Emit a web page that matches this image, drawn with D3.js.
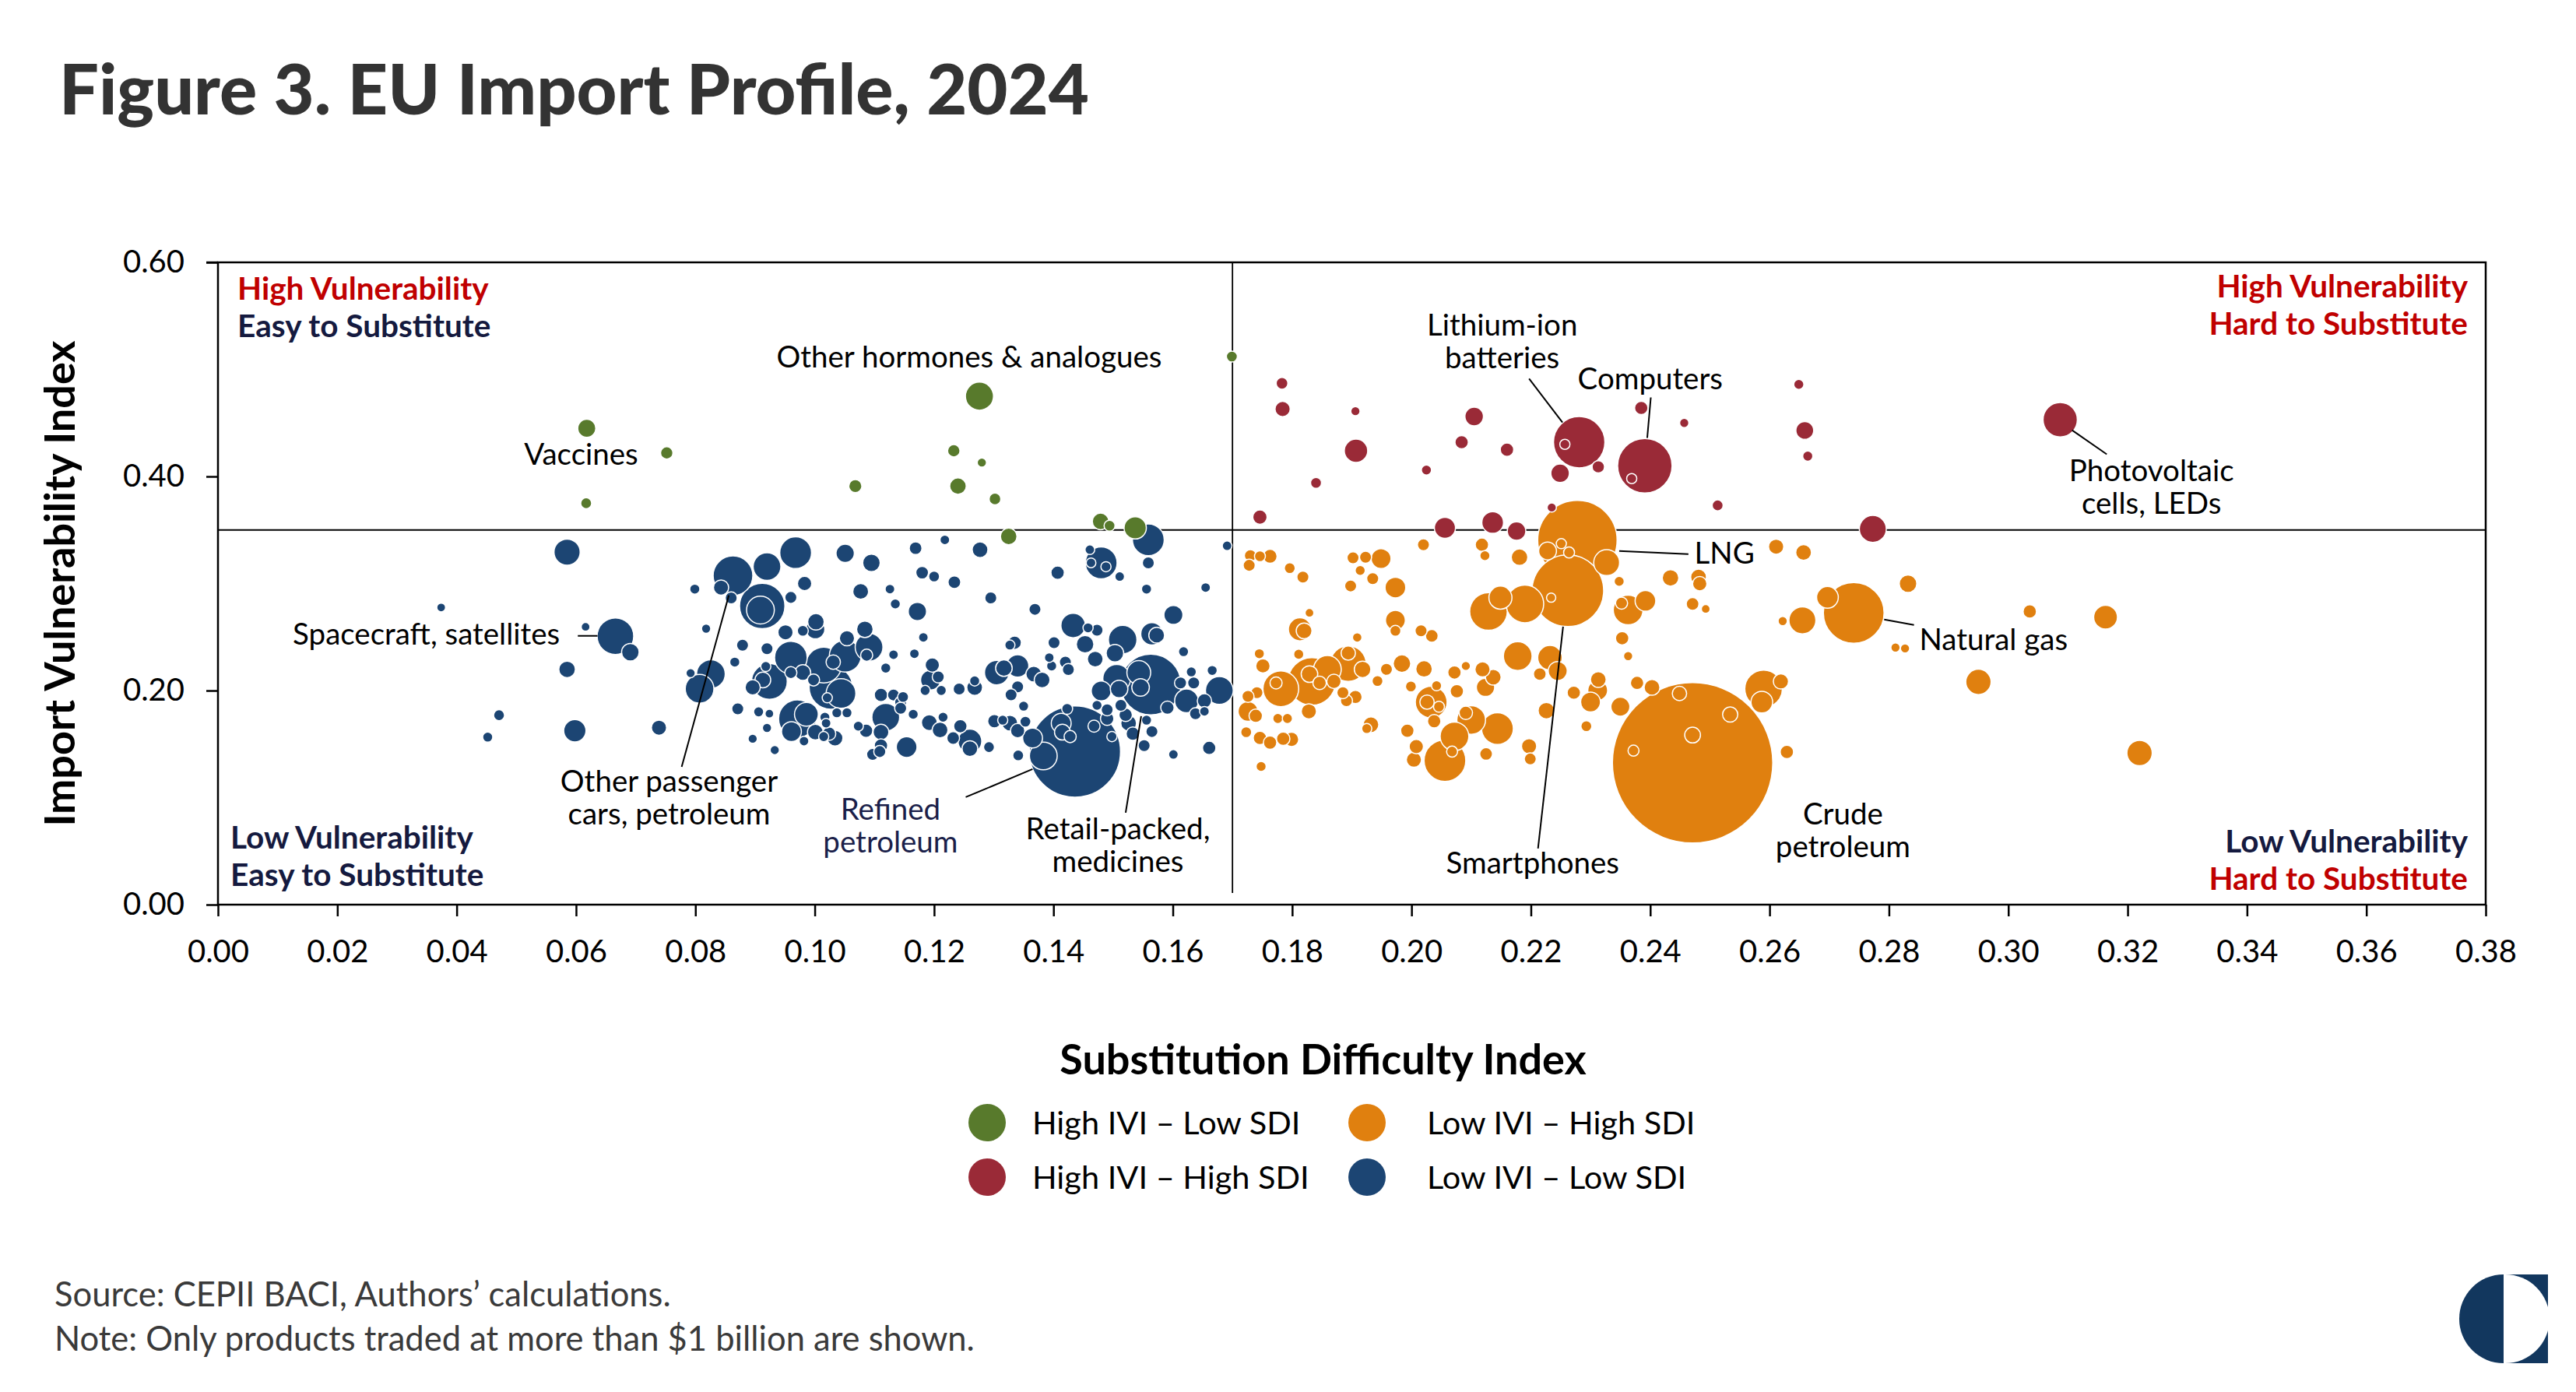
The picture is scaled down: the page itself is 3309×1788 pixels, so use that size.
<!DOCTYPE html>
<html>
<head>
<meta charset="utf-8">
<script src="https://cdn.jsdelivr.net/npm/d3@7"></script>
<style>
  body { margin: 0; background: #fff; }
  svg text { font-family: Lato, "Noto Sans", sans-serif; }
</style>
</head>
<body>
<div id="chart"></div>
<script>
// each point: [substitution difficulty index, import vulnerability index, trade value ($bn)]
const greenPoints = [
  [0.1276, 0.475, 9.2], [0.0618, 0.445, 3.8], [0.0752, 0.422, 1.8], [0.0617, 0.375, 1.4],
  [0.1068, 0.391, 2.0], [0.1233, 0.424, 1.8], [0.1280, 0.413, 1.0], [0.1240, 0.391, 3.2],
  [0.1302, 0.379, 1.6], [0.1699, 0.512, 1.4], [0.1479, 0.358, 3.2], [0.1494, 0.354, 1.4],
  [0.1537, 0.352, 5.8], [0.1325, 0.344, 3.2]
];

const redPoints = [
  [0.1783, 0.487, 1.6], [0.1784, 0.463, 2.7], [0.1906, 0.461, 1.0], [0.1907, 0.424, 6.4],
  [0.1840, 0.394, 1.4], [0.1746, 0.362, 2.4], [0.2105, 0.456, 4.0], [0.2084, 0.432, 2.1],
  [0.2160, 0.425, 2.1], [0.2025, 0.406, 1.2], [0.2249, 0.403, 4.0], [0.2313, 0.409, 1.8],
  [0.2281, 0.432, 30.8], [0.2391, 0.410, 34.6], [0.2385, 0.464, 2.1], [0.2457, 0.450, 1.0],
  [0.2649, 0.486, 1.2], [0.2659, 0.443, 3.7], [0.2664, 0.419, 1.2], [0.2513, 0.373, 1.4],
  [0.2773, 0.351, 8.5], [0.3087, 0.453, 13.7], [0.2235, 0.371, 1.0], [0.2056, 0.352, 5.2],
  [0.2136, 0.357, 5.5], [0.2176, 0.349, 4.0], [0.2257, 0.430, 1.2], [0.2369, 0.398, 1.2]
];

const orangePoints = [
  [0.1730, 0.326, 1.7], [0.1746, 0.3255, 1.4], [0.1763, 0.3254, 2.3], [0.1728, 0.317, 1.7],
  [0.1796, 0.3144, 1.4], [0.1818, 0.306, 1.7], [0.1902, 0.324, 1.7], [0.1923, 0.3246, 1.7],
  [0.1949, 0.3232, 4.6], [0.1914, 0.3122, 1.2], [0.1935, 0.3046, 1.7], [0.1973, 0.2962, 5.0],
  [0.1898, 0.2977, 1.7], [0.2020, 0.3362, 1.7], [0.2118, 0.3362, 2.1], [0.2123, 0.326, 1.2],
  [0.2181, 0.3246, 3.2], [0.1829, 0.2726, 0.9], [0.1813, 0.2572, 6.2], [0.1820, 0.2558, 2.9],
  [0.1973, 0.2656, 4.6], [0.1973, 0.2558, 1.4], [0.2016, 0.2558, 1.7], [0.2034, 0.2511, 1.9],
  [0.1909, 0.2496, 1.05], [0.2129, 0.2739, 16.5], [0.2149, 0.2868, 6.2], [0.2190, 0.2809, 16.5],
  [0.2262, 0.2933, 59.8], [0.2278, 0.3406, 73.5], [0.2228, 0.3304, 3.7], [0.2251, 0.3372, 1.2],
  [0.2264, 0.329, 1.4], [0.2327, 0.3195, 7.8], [0.2234, 0.2868, 1.0], [0.2348, 0.302, 1.2],
  [0.2363, 0.2753, 10.3], [0.2352, 0.2816, 1.7], [0.2392, 0.2838, 5.0], [0.2434, 0.3052, 3.2],
  [0.2481, 0.306, 2.9], [0.2483, 0.2998, 2.4], [0.2471, 0.2809, 1.9], [0.2493, 0.2762, 0.9],
  [0.2611, 0.3344, 2.7], [0.2657, 0.329, 2.9], [0.2697, 0.2871, 5.5], [0.2655, 0.2656, 8.5],
  [0.2622, 0.2649, 1.0], [0.2741, 0.2726, 43], [0.2353, 0.2489, 2.1], [0.2363, 0.2322, 1.0],
  [0.2178, 0.2322, 9.6], [0.2232, 0.2307, 7.0], [0.2245, 0.2183, 4.2], [0.2215, 0.2154, 1.9],
  [0.2226, 0.1812, 3.2], [0.2197, 0.148, 2.7], [0.2199, 0.1361, 1.7], [0.2313, 0.2103, 2.9],
  [0.2312, 0.2001, 4.6], [0.2300, 0.1892, 4.6], [0.2272, 0.1980, 2.1], [0.2350, 0.1849, 4.2],
  [0.2378, 0.2071, 2.1], [0.2403, 0.2030, 2.9], [0.2293, 0.1667, 1.4], [0.2471, 0.1325, 300],
  [0.2449, 0.1973, 2.4], [0.2534, 0.1776, 2.7], [0.2471, 0.1584, 2.9], [0.2372, 0.1439, 1.4],
  [0.2590, 0.2016, 16.5], [0.2587, 0.1892, 5.5], [0.2619, 0.2085, 2.7], [0.2629, 0.1426, 2.1],
  [0.1984, 0.2252, 3.6], [0.1958, 0.2198, 1.7], [0.1943, 0.2089, 1.4], [0.1918, 0.2198, 3.2],
  [0.2021, 0.2202, 3.2], [0.1999, 0.2038, 1.4], [0.2033, 0.1892, 11.8], [0.2026, 0.1892, 2.4],
  [0.2042, 0.2045, 1.2], [0.2046, 0.1849, 1.4], [0.2038, 0.1714, 2.1], [0.2072, 0.2169, 2.1],
  [0.2076, 0.1994, 2.1], [0.2091, 0.2230, 1.0], [0.2119, 0.2198, 2.7], [0.2137, 0.2125, 2.9],
  [0.2124, 0.2030, 3.9], [0.2100, 0.1725, 9.6], [0.2091, 0.1792, 2.1], [0.2144, 0.1645, 11.8],
  [0.2072, 0.1572, 9.6], [0.2056, 0.1346, 20.3], [0.2068, 0.1430, 1.4], [0.2008, 0.1477, 2.4],
  [0.2004, 0.1354, 2.7], [0.1993, 0.1625, 2.1], [0.2125, 0.1408, 1.9], [0.1932, 0.1681, 2.9],
  [0.1925, 0.1645, 1.2], [0.1906, 0.1940, 2.1], [0.1891, 0.1905, 1.7], [0.1885, 0.1980, 1.7],
  [0.1781, 0.2016, 14.9], [0.1773, 0.2071, 1.7], [0.1833, 0.2085, 26.4], [0.1859, 0.2198, 9.0],
  [0.1894, 0.2252, 14.9], [0.1894, 0.2350, 2.4], [0.1829, 0.2154, 3.2], [0.1846, 0.2071, 2.1],
  [0.1870, 0.2085, 2.4], [0.1828, 0.1806, 2.7], [0.1811, 0.2339, 1.2], [0.1745, 0.2344, 1.2],
  [0.1751, 0.2230, 2.4], [0.1741, 0.1980, 1.7], [0.1726, 0.1946, 1.7], [0.1726, 0.1806, 4.6],
  [0.1739, 0.1764, 2.1], [0.1723, 0.1611, 1.4], [0.1746, 0.1557, 2.1], [0.1763, 0.1514, 2.1],
  [0.1785, 0.1550, 2.1], [0.1799, 0.1543, 2.4], [0.1776, 0.1739, 1.2], [0.1792, 0.1739, 1.2],
  [0.1748, 0.1291, 1.2], [0.2832, 0.2998, 3.6], [0.2811, 0.2402, 1.0], [0.2827, 0.2394, 1.0],
  [0.3036, 0.2739, 2.1], [0.3163, 0.2686, 6.6], [0.2950, 0.2081, 7.5], [0.3220, 0.1416, 7.5]
];

const bluePoints = [
  [0.0585, 0.3293, 8.0], [0.0374, 0.2776, 0.9], [0.0616, 0.2595, 0.9], [0.0666, 0.2508, 15.6],
  [0.0691, 0.2358, 3.6], [0.0585, 0.2198, 3.2], [0.0471, 0.1770, 1.4], [0.0452, 0.1565, 1.2],
  [0.0598, 0.1625, 5.8], [0.0739, 0.1653, 2.7], [0.0799, 0.2948, 1.2], [0.0818, 0.2578, 1.0],
  [0.0863, 0.3073, 18.4], [0.0843, 0.2962, 2.7], [0.0860, 0.2865, 1.7], [0.0920, 0.3158, 9.0],
  [0.0912, 0.2790, 24.0], [0.0909, 0.2752, 9.0], [0.0879, 0.2424, 1.7], [0.0920, 0.2391, 1.7],
  [0.0826, 0.2154, 9.6], [0.0807, 0.2016, 9.6], [0.0792, 0.2163, 1.0], [0.0866, 0.2266, 1.2],
  [0.0918, 0.2225, 1.2], [0.0913, 0.2099, 2.9], [0.0896, 0.2030, 2.7], [0.0924, 0.2085, 14.9],
  [0.0871, 0.1829, 1.7], [0.0906, 0.1801, 1.2], [0.0924, 0.1784, 0.9], [0.0920, 0.1651, 1.0],
  [0.0896, 0.1550, 1.0], [0.0933, 0.1444, 1.0],
  [0.0968, 0.3288, 11.8], [0.0983, 0.3000, 2.4], [0.0960, 0.2870, 1.7], [0.1051, 0.3282, 3.9],
  [0.1095, 0.3193, 3.6], [0.1077, 0.2926, 2.9], [0.1126, 0.2948, 1.1], [0.1135, 0.2809, 1.2],
  [0.1169, 0.3330, 1.9], [0.1218, 0.3408, 1.1], [0.1180, 0.3101, 1.9], [0.1200, 0.3065, 1.4],
  [0.1234, 0.3012, 1.9], [0.1277, 0.3316, 2.9], [0.1295, 0.2865, 1.7], [0.1172, 0.2739, 3.9],
  [0.1182, 0.2497, 1.1], [0.1167, 0.2344, 1.1], [0.1132, 0.2335, 1.1], [0.1407, 0.3101, 2.1],
  [0.1369, 0.2759, 1.7], [0.1461, 0.3316, 1.1], [0.1480, 0.3193, 11.8], [0.1463, 0.3193, 1.1],
  [0.1488, 0.3157, 1.2], [0.1511, 0.3065, 1.1], [0.1559, 0.3408, 11.8], [0.1559, 0.3193, 1.7],
  [0.1556, 0.2948, 1.2], [0.1655, 0.2962, 1.1], [0.1691, 0.3352, 1.1], [0.1601, 0.2706, 4.2],
  [0.0951, 0.2544, 2.7], [0.0980, 0.2558, 1.4], [0.1002, 0.2642, 3.2], [0.1001, 0.2572, 4.2],
  [0.0960, 0.2308, 12.4], [0.0960, 0.2168, 1.7], [0.0980, 0.2168, 2.9], [0.0998, 0.2099, 1.7],
  [0.1015, 0.2238, 14.9], [0.1031, 0.2266, 2.4], [0.1051, 0.2322, 11.8], [0.1054, 0.2489, 2.7],
  [0.1084, 0.2572, 3.2], [0.1091, 0.2405, 9.0], [0.1087, 0.2330, 1.7], [0.1027, 0.2029, 22.0],
  [0.1044, 0.1973, 10.3], [0.1021, 0.1932, 1.2], [0.1119, 0.2210, 1.2], [0.1197, 0.2238, 2.4],
  [0.1194, 0.2099, 4.6], [0.1207, 0.2127, 1.7], [0.1185, 0.2001, 1.2], [0.1212, 0.2001, 1.2],
  [0.1242, 0.2015, 1.7], [0.1268, 0.2029, 2.9], [0.1268, 0.2090, 1.2], [0.1305, 0.2168, 7.0],
  [0.1317, 0.2210, 3.2], [0.1340, 0.2230, 5.8], [0.1335, 0.2447, 2.1], [0.1327, 0.2425, 1.2],
  [0.1367, 0.2154, 2.9], [0.1381, 0.2099, 2.9], [0.1340, 0.2035, 1.7], [0.1329, 0.1960, 1.7],
  [0.1401, 0.2447, 1.7], [0.1393, 0.2308, 1.1], [0.1397, 0.2230, 1.2], [0.1420, 0.2266, 1.7],
  [0.1425, 0.2196, 1.7], [0.1433, 0.2608, 7.0], [0.1458, 0.2586, 1.2], [0.1473, 0.2564, 1.7],
  [0.1453, 0.2433, 3.6], [0.1470, 0.2294, 2.9], [0.1516, 0.2475, 9.5], [0.1503, 0.2349, 3.6],
  [0.1565, 0.2530, 5.8], [0.1573, 0.2517, 2.9], [0.1618, 0.2363, 1.2], [0.1563, 0.2057, 43],
  [0.1543, 0.2168, 6.6], [0.1546, 0.2029, 3.6], [0.1506, 0.2113, 9.0], [0.1510, 0.2015, 3.6],
  [0.1480, 0.1996, 4.6], [0.1631, 0.2174, 1.2], [0.1666, 0.2188, 1.2], [0.1613, 0.2071, 1.7],
  [0.1635, 0.2071, 1.7], [0.1678, 0.2001, 9.0], [0.1623, 0.1904, 6.6], [0.1653, 0.1904, 2.4],
  [0.1591, 0.1840, 2.1], [0.1638, 0.1784, 1.7], [0.1653, 0.1806, 1.1], [0.0971, 0.1737, 16.6],
  [0.0986, 0.1778, 6.6], [0.0961, 0.1617, 4.6], [0.0982, 0.1528, 1.1], [0.1001, 0.1611, 2.9],
  [0.1017, 0.1751, 1.2], [0.1019, 0.1695, 1.1], [0.1024, 0.1597, 2.1], [0.1034, 0.1556, 2.9],
  [0.1015, 0.1570, 1.2], [0.1037, 0.1792, 1.2], [0.1054, 0.1792, 1.2], [0.1073, 0.1667, 1.2],
  [0.1086, 0.1625, 2.1], [0.1111, 0.1611, 2.9], [0.1119, 0.1751, 9.0], [0.1111, 0.1959, 2.1],
  [0.1132, 0.1959, 1.7], [0.1144, 0.1890, 1.7], [0.1148, 0.1940, 1.4], [0.1144, 0.1834, 1.7],
  [0.1165, 0.1778, 1.2], [0.1111, 0.1486, 2.1], [0.1097, 0.1403, 1.7], [0.1109, 0.1430, 1.7],
  [0.1154, 0.1472, 5.0], [0.1192, 0.1700, 2.9], [0.1210, 0.1631, 2.9], [0.1215, 0.1751, 1.2],
  [0.1232, 0.1556, 1.9], [0.1244, 0.1667, 2.1], [0.1260, 0.1528, 6.6], [0.1260, 0.1458, 2.9],
  [0.1292, 0.1472, 1.4], [0.1301, 0.1714, 2.1], [0.1315, 0.1723, 1.2], [0.1327, 0.1695, 2.9],
  [0.1340, 0.1625, 2.4], [0.1353, 0.1709, 1.4], [0.1350, 0.1854, 1.2], [0.1341, 0.1394, 1.4],
  [0.1365, 0.1556, 4.6], [0.1383, 0.1389, 9.0], [0.1436, 0.1430, 97], [0.1423, 0.1829, 1.4],
  [0.1413, 0.1695, 4.6], [0.1428, 0.1570, 1.7], [0.1415, 0.1611, 2.9], [0.1473, 0.1862, 1.2],
  [0.1490, 0.1820, 1.7], [0.1468, 0.1667, 1.7], [0.1498, 0.1570, 1.2], [0.1490, 0.1737, 2.1],
  [0.1513, 0.1862, 1.7], [0.1521, 0.1773, 2.1], [0.1526, 0.1695, 2.9], [0.1533, 0.1597, 2.1],
  [0.1556, 0.1723, 1.2], [0.1565, 0.1617, 1.7], [0.1552, 0.1486, 1.7], [0.1601, 0.1403, 1.1],
  [0.1661, 0.1464, 2.1]
];

const xTickValues = [0, 0.02, 0.04, 0.06, 0.08, 0.10, 0.12, 0.14, 0.16, 0.18,
  0.20, 0.22, 0.24, 0.26, 0.28, 0.30, 0.32, 0.34, 0.36, 0.38];
const yTickValues = [0, 0.20, 0.40, 0.60];

const ivithreshold = 0.35;
const sdiThreshold = 0.17;

const groups = [
  { label: "High IVI – Low SDI", color: "#587a2c", points: greenPoints },
  { label: "High IVI – High SDI", color: "#9a2a37", points: redPoints },
  { label: "Low IVI – High SDI", color: "#e0800f", points: orangePoints },
  { label: "Low IVI – Low SDI", color: "#1c4573", points: bluePoints }
];

const annotations = [
  { lines: ["Vaccines"], x: 0.0513, y: 0.4112, anchor: "start" },
  { lines: ["Other hormones & analogues"], x: 0.0936, y: 0.5015, anchor: "start" },
  { lines: ["Spacecraft, satellites"], x: 0.0573, y: 0.2431, anchor: "end", leader: [[0.0603, 0.2511], [0.0636, 0.2511]] },
  { lines: ["Other passenger", "cars, petroleum"], x: 0.0756, y: 0.1055, anchor: "middle", leader: [[0.0777, 0.1288], [0.0856, 0.2889]] },
  { lines: ["Refined", "petroleum"], x: 0.1127, y: 0.0793, anchor: "middle", navy: true, leader: [[0.1253, 0.1004], [0.1365, 0.1266]] },
  { lines: ["Retail-packed,", "medicines"], x: 0.1508, y: 0.0611, anchor: "middle", leader: [[0.1521, 0.0859], [0.1547, 0.1761]] },
  { lines: ["Lithium-ion", "batteries"], x: 0.2152, y: 0.5313, anchor: "middle", leader: [[0.2197, 0.4913], [0.2253, 0.4505]] },
  { lines: ["Computers"], x: 0.2400, y: 0.4818, anchor: "middle", leader: [[0.2401, 0.4738], [0.2395, 0.4360]] },
  { lines: ["Photovoltaic", "cells, LEDs"], x: 0.3240, y: 0.3959, anchor: "middle", leader: [[0.3165, 0.4207], [0.3107, 0.4432]] },
  { lines: ["LNG"], x: 0.2474, y: 0.3188, anchor: "start", leader: [[0.2348, 0.3304], [0.2464, 0.3275]] },
  { lines: ["Smartphones"], x: 0.2203, y: 0.0291, anchor: "middle", leader: [[0.2212, 0.0524], [0.2254, 0.2598]] },
  { lines: ["Crude", "petroleum"], x: 0.2723, y: 0.0750, anchor: "middle" },
  { lines: ["Natural gas"], x: 0.2851, y: 0.2380, anchor: "start", leader: [[0.2792, 0.2664], [0.2842, 0.2613]] }
];

const W = 3309, H = 1788;
const plot = { left: 280, right: 3193, top: 337, bottom: 1162 };
const RED = "#c00000", NAVY = "#151a3f", INK = "#333333";

const renderChart = (cont) => {
  let svg = d3.select(cont)
    .append("svg")
    .attr("width", W)
    .attr("height", H);

  svg.append("rect").attr("width", W).attr("height", H).attr("fill", "#fff");

  let x = d3.scaleLinear().domain([0, 0.38]).range([plot.left, plot.right]);
  let y = d3.scaleLinear().domain([0, 0.60]).range([plot.bottom, plot.top]);
  let r = d3.scaleSqrt().domain([0, 300]).range([0, 103]);

  // title
  svg.append("text")
    .attr("x", 76).attr("y", 147)
    .attr("font-size", 90).attr("font-weight", 900)
    .attr("fill", INK)
    .text("Figure 3. EU Import Profile, 2024");

  // axes
  let xAxis = svg.append("g")
    .attr("transform", `translate(0,${plot.bottom})`)
    .call(d3.axisBottom(x).tickValues(xTickValues).tickFormat(d3.format(".2f")).tickSizeOuter(0).tickSize(15).tickPadding(30));
  let yAxis = svg.append("g")
    .attr("transform", `translate(${plot.left},0)`)
    .call(d3.axisLeft(y).tickValues(yTickValues).tickFormat(d3.format(".2f")).tickSizeOuter(0).tickSize(15).tickPadding(28));

  [xAxis, yAxis].forEach(a => {
    a.selectAll("path").remove();
    a.selectAll("line").attr("stroke", "#000").attr("stroke-width", 2.5);
    a.selectAll("text").attr("font-size", 40).attr("fill", "#000").attr("font-family", "Lato");
  });
  xAxis.selectAll("text").attr("dy", "0.72em");

  // frame
  svg.append("rect")
    .attr("x", plot.left).attr("y", plot.top)
    .attr("width", plot.right - plot.left).attr("height", plot.bottom - plot.top)
    .attr("fill", "none").attr("stroke", "#000").attr("stroke-width", 2.5);
  svg.append("line")
    .attr("x1", plot.left - 15).attr("x2", plot.left)
    .attr("y1", plot.top).attr("y2", plot.top)
    .attr("stroke", "#000").attr("stroke-width", 2.5);

  // thresholds
  svg.append("line")
    .attr("x1", plot.left).attr("x2", plot.right)
    .attr("y1", y(ivithreshold)).attr("y2", y(ivithreshold))
    .attr("stroke", "#000").attr("stroke-width", 1.8);
  svg.append("line")
    .attr("x1", x(sdiThreshold)).attr("x2", x(sdiThreshold))
    .attr("y1", y(0.6)).attr("y2", y(0.011))
    .attr("stroke", "#000").attr("stroke-width", 1.8);

  // quadrant labels
  let quad = [
    { x: plot.left + 25, y: 385, anchor: "start", lines: [["High Vulnerability", RED], ["Easy to Substitute", NAVY]] },
    { x: plot.right - 23, y: 382, anchor: "end", lines: [["High Vulnerability", RED], ["Hard to Substitute", RED]] },
    { x: plot.left + 16, y: 1090, anchor: "start", lines: [["Low Vulnerability", NAVY], ["Easy to Substitute", NAVY]] },
    { x: plot.right - 23, y: 1095, anchor: "end", lines: [["Low Vulnerability", NAVY], ["Hard to Substitute", RED]] }
  ];
  quad.forEach(q => {
    q.lines.forEach((l, i) => {
      svg.append("text")
        .attr("x", q.x).attr("y", q.y + i * 48)
        .attr("text-anchor", q.anchor)
        .attr("font-size", 40.5).attr("font-weight", 700)
        .attr("fill", l[1])
        .text(l[0]);
    });
  });

  // bubbles, largest first so small ones stay visible
  let all = [];
  groups.forEach(g => g.points.forEach(p => all.push({ sdi: p[0], ivi: p[1], value: p[2], color: g.color })));
  all.sort((a, b) => b.value - a.value);

  svg.append("g")
    .selectAll("circle")
    .data(all)
    .enter()
    .append("circle")
    .attr("cx", d => x(d.sdi))
    .attr("cy", d => y(d.ivi))
    .attr("r", d => r(d.value))
    .style("fill", d => d.color)
    .style("stroke", "#fff")
    .style("stroke-width", "1.5px");

  // annotations
  let ann = svg.append("g");
  annotations.forEach(a => {
    if (a.leader) {
      ann.append("line")
        .attr("x1", x(a.leader[0][0])).attr("y1", y(a.leader[0][1]))
        .attr("x2", x(a.leader[1][0])).attr("y2", y(a.leader[1][1]))
        .attr("stroke", "#000").attr("stroke-width", 2);
    }
    a.lines.forEach((t, i) => {
      ann.append("text")
        .attr("x", x(a.x)).attr("y", y(a.y) + i * 42)
        .attr("text-anchor", a.anchor)
        .attr("font-size", 38.5)
        .attr("fill", a.navy ? "#1b1f4a" : "#000")
        .text(t);
    });
  });

  // axis titles
  svg.append("text")
    .attr("x", (plot.left + plot.right) / 2 - 37).attr("y", 1380)
    .attr("text-anchor", "middle")
    .attr("font-size", 54).attr("font-weight", 700).attr("fill", "#000")
    .text("Substitution Difficulty Index");
  svg.append("text")
    .attr("transform", `translate(96,${(plot.top + plot.bottom) / 2}) rotate(-90)`)
    .attr("text-anchor", "middle")
    .attr("font-size", 54).attr("font-weight", 700).attr("fill", "#000")
    .text("Import Vulnerability Index");

  // legend
  let legendPos = [[1268, 1442], [1268, 1512], [1756, 1442], [1756, 1512]];
  let legend = svg.append("g")
    .selectAll("g")
    .data(groups)
    .enter()
    .append("g")
    .attr("transform", (d, i) => `translate(${legendPos[i][0]},${legendPos[i][1]})`);
  legend.append("circle").attr("r", 24).style("fill", d => d.color);
  legend.append("text")
    .attr("x", (d, i) => i < 2 ? 58 : 77)
    .attr("y", 15)
    .attr("font-size", 41.5).attr("fill", "#000")
    .text(d => d.label);

  // footer
  svg.append("text")
    .attr("x", 70).attr("y", 1678)
    .attr("font-size", 43.5).attr("fill", "#3a3a3a")
    .text("Source: CEPII BACI, Authors’ calculations.");
  svg.append("text")
    .attr("x", 70).attr("y", 1735)
    .attr("font-size", 43.5).attr("fill", "#3a3a3a")
    .text("Note: Only products traded at more than $1 billion are shown.");

  // logo: navy left half-disc, navy right square with white half-disc
  let R = 57;
  let logo = svg.append("g").attr("transform", "translate(3216,1694)");
  logo.append("path")
    .attr("d", `M 0 ${-R} A ${R} ${R} 0 0 0 0 ${R} Z`)
    .style("fill", "#12375e");
  logo.append("rect")
    .attr("x", 2).attr("y", -R).attr("width", R - 2).attr("height", 2 * R)
    .style("fill", "#12375e");
  logo.append("path")
    .attr("d", `M 2 ${-R} A ${R} ${R} 0 0 1 2 ${R} Z`)
    .style("fill", "#fff");
};

renderChart("#chart");
</script>
</body>
</html>
